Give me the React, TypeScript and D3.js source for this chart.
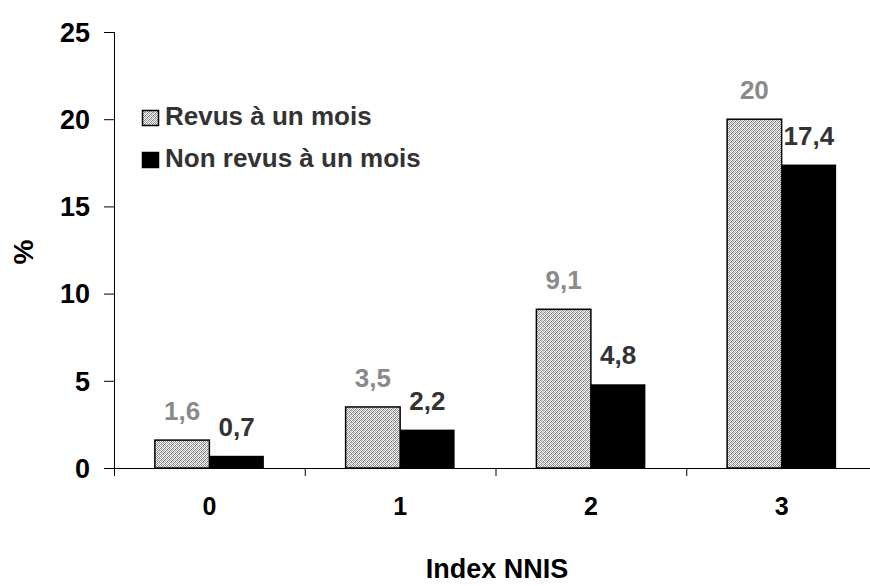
import React from "react";
import * as d3 from "d3";

const categories = ["0", "1", "2", "3"];
const seriesNames = ["Revus à un mois", "Non revus à un mois"];
const revus = [1.6, 3.5, 9.1, 20];
const nonRevus = [0.7, 2.2, 4.8, 17.4];
const yTicks = [0, 5, 10, 15, 20, 25];

const W = 870;
const H = 586;
const FONT = "'Liberation Sans', Arial, sans-serif";

const fmt = (v: number) => String(v).replace(".", ",");

const App = () => {
  const x0 = d3.scaleBand().domain(categories).range([114, 877]).padding(0);
  const x1 = d3
    .scaleBand()
    .domain(seriesNames)
    .range([0, x0.bandwidth()])
    .paddingInner(0)
    .paddingOuter(0.75);
  const y = d3.scaleLinear().domain([0, 25]).range([468, 32]);

  const series = [
    { name: seriesNames[0], values: revus, fill: "url(#stipple)", stroke: "#000", label: "#8a8a8a" },
    { name: seriesNames[1], values: nonRevus, fill: "#000", stroke: "none", label: "#333" },
  ];

  // boundaries between categories get a tick mark
  const boundaries = categories.map((c) => x0(c) as number);

  return (
    <svg
      width={W}
      height={H}
      style={{ position: "absolute", left: 0, top: 0, background: "#fff" }}
      fontFamily={FONT}
      fontWeight="bold"
    >
      <defs>
        <pattern id="stipple" width="4" height="4" patternUnits="userSpaceOnUse">
          <rect width="4" height="4" fill="#fff" />
          <rect x="0" y="0" width="1" height="1" fill="#8c8c8c" />
          <rect x="2" y="0" width="1" height="1" fill="#a8a8a8" />
          <rect x="1" y="1" width="1" height="1" fill="#999" />
          <rect x="3" y="1" width="1" height="1" fill="#777" />
          <rect x="0" y="2" width="1" height="1" fill="#aaa" />
          <rect x="2" y="2" width="1" height="1" fill="#888" />
          <rect x="1" y="3" width="1" height="1" fill="#7a7a7a" />
          <rect x="3" y="3" width="1" height="1" fill="#b0b0b0" />
          <rect x="1" y="0" width="1" height="1" fill="#ddd" />
          <rect x="3" y="2" width="1" height="1" fill="#d4d4d4" />
        </pattern>
      </defs>

      {/* bars */}
      {series.map((s) =>
        categories.map((c, i) => {
          const bx = (x0(c) as number) + (x1(s.name) as number);
          const by = y(s.values[i]);
          return (
            <g key={s.name + c}>
              <rect
                x={bx}
                y={by}
                width={x1.bandwidth()}
                height={y(0) - by}
                fill={s.fill}
                stroke={s.stroke}
                strokeWidth={1.5}
              />
              <text
                x={bx + x1.bandwidth() / 2}
                y={by - 20}
                textAnchor="middle"
                fontSize={26}
                fill={s.label}
              >
                {fmt(s.values[i])}
              </text>
            </g>
          );
        })
      )}

      {/* y axis */}
      <line x1={114.5} x2={114.5} y1={y(25)} y2={476} stroke="#000" />
      {yTicks.map((t) => (
        <g key={t}>
          <line x1={104} x2={114.5} y1={y(t) + 0.5} y2={y(t) + 0.5} stroke="#000" />
          <text x={90} y={y(t)} dy="0.36em" textAnchor="end" fontSize={27} fill="#000">
            {t}
          </text>
        </g>
      ))}

      {/* x axis */}
      <line x1={114} x2={W} y1={y(0) + 0.5} y2={y(0) + 0.5} stroke="#000" />
      {boundaries.map((b, i) => (
        <line key={i} x1={b + 0.5} x2={b + 0.5} y1={y(0)} y2={476} stroke="#000" />
      ))}
      {categories.map((c) => (
        <text
          key={c}
          x={(x0(c) as number) + x0.bandwidth() / 2}
          y={515}
          textAnchor="middle"
          fontSize={25}
          fill="#000"
        >
          {c}
        </text>
      ))}

      {/* axis titles */}
      <text x={497} y={578} textAnchor="middle" fontSize={27} fill="#000">
        Index NNIS
      </text>
      <text
        transform={`translate(33,252) rotate(-90)`}
        textAnchor="middle"
        fontSize={28}
        fill="#000"
      >
        %
      </text>

      {/* legend */}
      {series.map((s, i) => (
        <g key={s.name} transform={`translate(142,${110 + i * 42})`}>
          <rect
            x={0.5}
            y={0.5}
            width={16}
            height={15}
            fill={s.fill}
            stroke="#000"
            strokeWidth={1.5}
          />
          <text x={23} y={15} fontSize={26} fill="#333">
            {s.name}
          </text>
        </g>
      ))}
    </svg>
  );
};

export default App;
